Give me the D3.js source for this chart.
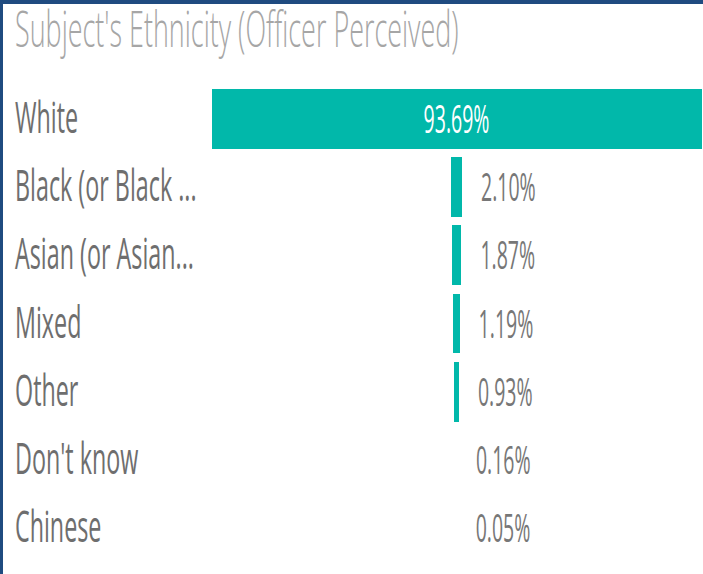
<!DOCTYPE html>
<html>
<head>
<meta charset="utf-8">
<script src="https://cdn.jsdelivr.net/npm/d3@7"></script>
<style>
  body { margin: 0; background: #fff; }
  text { font-family: "Open Sans", sans-serif; }
</style>
</head>
<body>
<svg id="chart" width="703" height="574"></svg>
<script>
// Data
const title = "Subject's Ethnicity (Officer Perceived)";
const categories = ["White", "Black (or Black ...", "Asian (or Asian...", "Mixed", "Other", "Don't know", "Chinese"];
const values = [93.69, 2.10, 1.87, 1.19, 0.93, 0.16, 0.05];

const teal = "#01b8aa";

const data = categories.map((c, i) => ({ name: c, value: values[i] }));

const svg = d3.select("#chart");
const width = +svg.attr("width"), height = +svg.attr("height");

// frame
svg.append("rect").attr("x", 0).attr("y", 0).attr("width", width).attr("height", 4).attr("fill", "#1f4b80");
svg.append("rect").attr("x", 0).attr("y", 0).attr("width", 3).attr("height", height).attr("fill", "#1f4b80");

// text is drawn narrow, the picture is squeezed sideways
svg.append("text")
  .attr("transform", "translate(15,47) scale(0.55,1)")
  .attr("font-size", 49)
  .attr("font-weight", 300)
  .attr("fill", "#a6a6a6")
  .text(title);

const y = d3.scaleBand()
  .domain(categories)
  .range([89, 558])
  .paddingInner(0.12)
  .paddingOuter(0);

// funnel: bars centred on one axis
const cx = 456.5;
const w = d3.scaleLinear()
  .domain([0, d3.max(values)])
  .range([0, 490]);

const bw = v => w(v) < 1 ? 0 : w(v);

const row = svg.selectAll("g.row")
  .data(data)
  .enter().append("g")
  .attr("class", "row")
  .attr("transform", d => `translate(0,${y(d.name)})`);

row.append("rect")
  .attr("x", d => cx - bw(d.value) / 2)
  .attr("width", d => bw(d.value))
  .attr("height", y.bandwidth())
  .attr("fill", teal)
  .attr("shape-rendering", "crispEdges");

row.append("text")
  .attr("transform", `translate(15,${y.bandwidth() / 2 + 14}) scale(0.53,1)`)
  .attr("font-size", 44)
  .attr("fill", "#6e6e6e")
  .text(d => d.name);

row.append("text")
  .attr("transform", d => {
    const inside = w(d.value) > 100;
    const lx = inside ? cx : cx + w(d.value) / 2 + 19;
    return `translate(${lx},${y.bandwidth() / 2 + 14}) scale(0.5,1)`;
  })
  .attr("text-anchor", d => w(d.value) > 100 ? "middle" : "start")
  .attr("font-size", 39)
  .attr("fill", d => w(d.value) > 100 ? "#ffffff" : "#777777")
  .text(d => d.value.toFixed(2) + "%");
</script>
</body>
</html>
